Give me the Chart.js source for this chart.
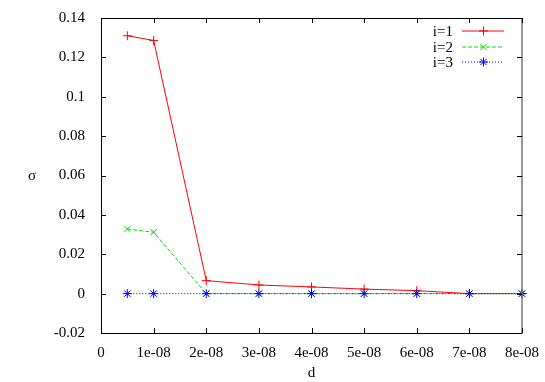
<!DOCTYPE html>
<html>
<head>
<meta charset="utf-8">
<script src="https://cdn.jsdelivr.net/npm/chart.js@4"></script>
<style>
  html, body { margin: 0; padding: 0; background: #fff; }
  #wrap { width: 545px; height: 382px; }
</style>
</head>
<body>
<div id="wrap"><canvas id="myChart"></canvas></div>
<script>
// data
const dValues = [5e-9, 1e-8, 2e-8, 3e-8, 4e-8, 5e-8, 6e-8, 7e-8, 8e-8];
const sigma1 = [0.131, 0.1286, 0.0066, 0.0044, 0.0034, 0.0023, 0.0015, 0, 0];
const sigma2 = [0.0328, 0.0312, 0, 0, 0, 0, 0, 0, 0];
const sigma3 = [0, 0, 0, 0, 0, 0, 0, 0, 0];
const seriesNames = ['i=1', 'i=2', 'i=3'];

const xTickValues = [0, 1e-8, 2e-8, 3e-8, 4e-8, 5e-8, 6e-8, 7e-8, 8e-8];
const xTickLabels = ['0', '1e-08', '2e-08', '3e-08', '4e-08', '5e-08', '6e-08', '7e-08', '8e-08'];
const yTickValues = [-0.02, 0, 0.02, 0.04, 0.06, 0.08, 0.1, 0.12, 0.14];
const yTickLabels = ['-0.02', '0', '0.02', '0.04', '0.06', '0.08', '0.1', '0.12', '0.14'];

const serif = '"Liberation Serif", "Times New Roman", serif';
Chart.defaults.font.family = serif;
Chart.defaults.font.size = 15;
Chart.defaults.color = '#000';

const toPoints = arr => arr.map((y, i) => ({ x: dValues[i], y: y }));

const styles = [
    { color: 'rgb(255,0,0)', dash: [], point: 'cross' },
    { color: 'rgb(0,225,0)', dash: [4, 2], point: 'crossRot' },
    { color: 'rgb(0,0,255)', dash: [1, 2], point: 'star' }
];

// gnuplot style frame, inward ticks, axis titles and key
const framePlugin = {
    id: 'frame',
    afterDraw(chart) {
        const ctx = chart.ctx;
        const a = chart.chartArea;
        const xs = chart.scales.x, ys = chart.scales.y;
        ctx.save();
        ctx.lineWidth = 1;
        ctx.strokeStyle = '#000';
        ctx.beginPath();
        ctx.moveTo(a.left + 0.5, a.top + 0.5);
        ctx.lineTo(a.left + 0.5, a.bottom + 0.5);
        ctx.lineTo(a.right, a.bottom + 0.5);
        ctx.moveTo(a.left + 0.5, a.top + 0.5);
        ctx.lineTo(a.right, a.top + 0.5);
        ctx.stroke();
        ctx.strokeStyle = '#777';
        ctx.lineWidth = 1.5;
        ctx.beginPath();
        ctx.moveTo(a.right, a.top);
        ctx.lineTo(a.right, a.bottom + 1);
        ctx.stroke();

        ctx.strokeStyle = '#000';
        ctx.lineWidth = 1;
        ctx.beginPath();
        xs.ticks.forEach(t => {
            const px = Math.round(xs.getPixelForValue(t.value)) + 0.5;
            ctx.moveTo(px, a.bottom); ctx.lineTo(px, a.bottom - 5);
            ctx.moveTo(px, a.top); ctx.lineTo(px, a.top + 5);
        });
        ys.ticks.forEach(t => {
            const py = Math.round(ys.getPixelForValue(t.value)) + 0.5;
            ctx.moveTo(a.left, py); ctx.lineTo(a.left + 5, py);
            ctx.moveTo(a.right, py); ctx.lineTo(a.right - 5, py);
        });
        ctx.stroke();

        // axis titles
        ctx.fillStyle = '#000';
        ctx.font = '15px ' + serif;
        ctx.textAlign = 'center';
        ctx.textBaseline = 'alphabetic';
        ctx.fillText('d', (a.left + a.right) / 2, 377);
        ctx.fillText('σ', 32, 180);

        // key
        ctx.textAlign = 'right';
        ctx.textBaseline = 'middle';
        chart.data.datasets.forEach((ds, i) => {
            const y = Math.round(31 + i * 15.5);
            const s = styles[i];
            ctx.fillStyle = '#000';
            ctx.fillText(ds.label, 453, y + 1);
            ctx.strokeStyle = s.color;
            ctx.lineWidth = 1;
            ctx.setLineDash(s.dash);
            ctx.beginPath();
            ctx.moveTo(462, y);
            ctx.lineTo(504, y);
            ctx.stroke();
            ctx.setLineDash([]);
            const cx = 483.5, cy = y, r = 4.5;
            ctx.beginPath();
            if (s.point === 'cross' || s.point === 'star') {
                ctx.moveTo(cx - r, cy); ctx.lineTo(cx + r, cy);
                ctx.moveTo(cx, cy - r); ctx.lineTo(cx, cy + r);
            }
            if (s.point === 'crossRot' || s.point === 'star') {
                const d = r * Math.SQRT1_2;
                ctx.moveTo(cx - d, cy - d); ctx.lineTo(cx + d, cy + d);
                ctx.moveTo(cx - d, cy + d); ctx.lineTo(cx + d, cy - d);
            }
            ctx.stroke();
        });
        ctx.restore();
    }
};

const ctx = document.getElementById('myChart').getContext('2d');
const myChart = new Chart(ctx, {
    type: 'line',
    data: {
        datasets: [sigma1, sigma2, sigma3].map((arr, i) => ({
            label: seriesNames[i],
            data: toPoints(arr),
            borderColor: styles[i].color,
            backgroundColor: styles[i].color,
            borderWidth: 1,
            borderDash: styles[i].dash,
            pointStyle: styles[i].point,
            pointRadius: 4.5,
            pointBorderWidth: 1,
            pointHoverRadius: 4.5,
            fill: false,
            tension: 0,
            clip: false,
            order: 3 - i
        }))
    },
    options: {
        responsive: true,
        maintainAspectRatio: false,
        animation: false,
        events: [],
        layout: { padding: { left: 0, right: 23, top: 18, bottom: 0 } },
        plugins: {
            legend: { display: false },
            tooltip: { enabled: false }
        },
        scales: {
            x: {
                type: 'linear',
                min: 0,
                max: 8e-8,
                grid: { display: false },
                border: { display: false },
                afterBuildTicks: scale => { scale.ticks = xTickValues.map(v => ({ value: v })); },
                afterFit: scale => { scale.height = 49; },
                ticks: {
                    padding: 3,
                    maxRotation: 0,
                    autoSkip: false,
                    callback: (v, i) => xTickLabels[i]
                }
            },
            y: {
                type: 'linear',
                min: -0.02,
                max: 0.14,
                grid: { display: false },
                border: { display: false },
                afterBuildTicks: scale => { scale.ticks = yTickValues.map(v => ({ value: v })); },
                afterFit: scale => { scale.width = 101; },
                ticks: {
                    padding: 8,
                    autoSkip: false,
                    callback: (v, i) => yTickLabels[i]
                }
            }
        }
    },
    plugins: [framePlugin]
});
</script>
</body>
</html>
